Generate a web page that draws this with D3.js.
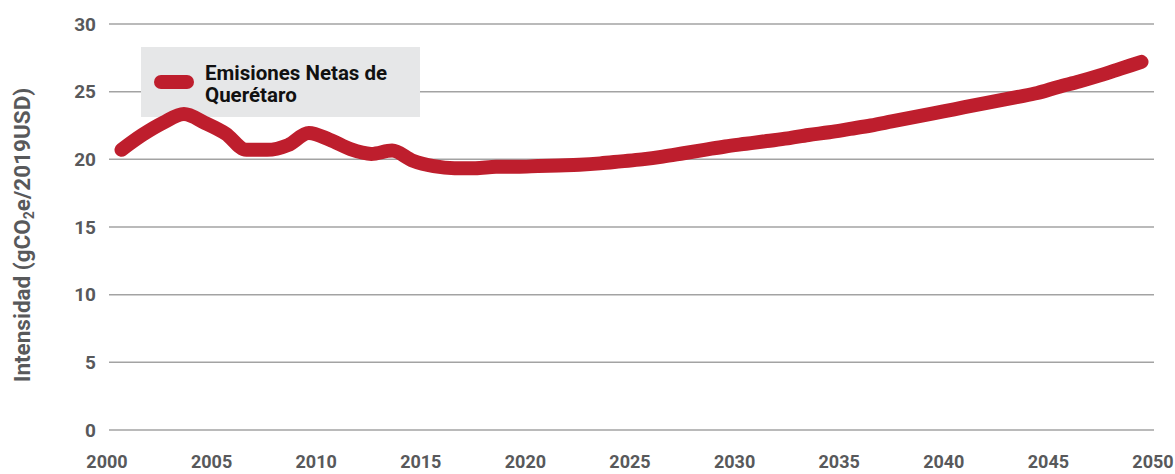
<!DOCTYPE html>
<html><head><meta charset="utf-8">
<script src="https://cdn.jsdelivr.net/npm/d3@7"></script>
<style>
body{margin:0;background:#fff;}
svg{display:block;}
</style></head><body>
<svg id="chart" width="1175" height="474"></svg>
<script>
const years = d3.range(2001, 2051);
const values = [
  20.7, 21.8, 22.7, 23.35, 22.7, 21.9, 20.7, 20.7, 21.05, 21.95,
  21.45, 20.75, 20.4, 20.65, 19.9, 19.5, 19.35, 19.35, 19.45, 19.45,
  19.5, 19.55, 19.6, 19.7, 19.85, 20.0, 20.2, 20.45, 20.7, 20.95,
  21.15, 21.35, 21.55, 21.8, 22.0, 22.25, 22.5, 22.8, 23.1, 23.4,
  23.7, 24.0, 24.3, 24.6, 24.9, 25.35, 25.75, 26.2, 26.7, 27.2
];
const yTicks = [0, 5, 10, 15, 20, 25, 30];
const xTickLabels = [2000, 2005, 2010, 2015, 2020, 2025, 2030, 2035, 2040, 2045, 2050];
const seriesName = ["Emisiones Netas de", "Querétaro"];

const svg = d3.select("#chart");
const font = "'Roboto', sans-serif";
const grey = "#58595b";
const red = "#be1e2d";

const y = d3.scaleLinear().domain([0, 30]).range([430, 24]);
const xLab = d3.scaleLinear().domain([2000, 2050]).range([107, 1153]);
const xPt = d3.scalePoint().domain(years).range([109, 1154]).padding(0.6);

// gridlines
svg.append("g").selectAll("line").data(yTicks).join("line")
  .attr("x1", 109).attr("x2", 1154)
  .attr("y1", d => y(d)).attr("y2", d => y(d))
  .attr("stroke", "#a3a3a3").attr("stroke-width", 1.5);

// y tick labels
svg.append("g").selectAll("text").data(yTicks).join("text")
  .attr("x", 96).attr("y", d => y(d)).attr("dy", "0.35em")
  .attr("text-anchor", "end")
  .attr("font-family", font).attr("font-weight", "bold").attr("font-size", 19)
  .attr("fill", grey).text(d => d);

// x tick labels
svg.append("g").selectAll("text").data(xTickLabels).join("text")
  .attr("x", d => xLab(d)).attr("y", 468)
  .attr("text-anchor", "middle")
  .attr("font-family", font).attr("font-weight", "bold").attr("font-size", 18)
  .attr("fill", grey).text(d => d);

// y axis title
const yt = svg.append("text")
  .attr("transform", "translate(30,235) rotate(-90)")
  .attr("text-anchor", "middle")
  .attr("font-family", font).attr("font-weight", "bold").attr("font-size", 22.5)
  .attr("fill", grey);
yt.append("tspan").text("Intensidad (gCO");
yt.append("tspan").attr("font-size", 14).attr("dy", 4).text("2");
yt.append("tspan").attr("dy", -4).text("e/2019USD)");

// legend
svg.append("rect").attr("x", 141).attr("y", 47).attr("width", 279).attr("height", 70)
  .attr("fill", "#e6e7e8");
svg.append("line").attr("x1", 161).attr("x2", 187).attr("y1", 82).attr("y2", 82)
  .attr("stroke", red).attr("stroke-width", 14).attr("stroke-linecap", "round");
svg.append("g").selectAll("text").data(seriesName).join("text")
  .attr("x", 205).attr("y", (d, i) => 80 + i * 22)
  .attr("font-family", font).attr("font-weight", "bold").attr("font-size", 20.5)
  .attr("fill", "#111").text(d => d);

// line
const line = d3.line().x((d, i) => xPt(years[i])).y(d => y(d)).curve(d3.curveMonotoneX);
svg.append("path").datum(values).attr("d", line)
  .attr("fill", "none").attr("stroke", red).attr("stroke-width", 14)
  .attr("stroke-linecap", "round").attr("stroke-linejoin", "round");
</script>
</body></html>
